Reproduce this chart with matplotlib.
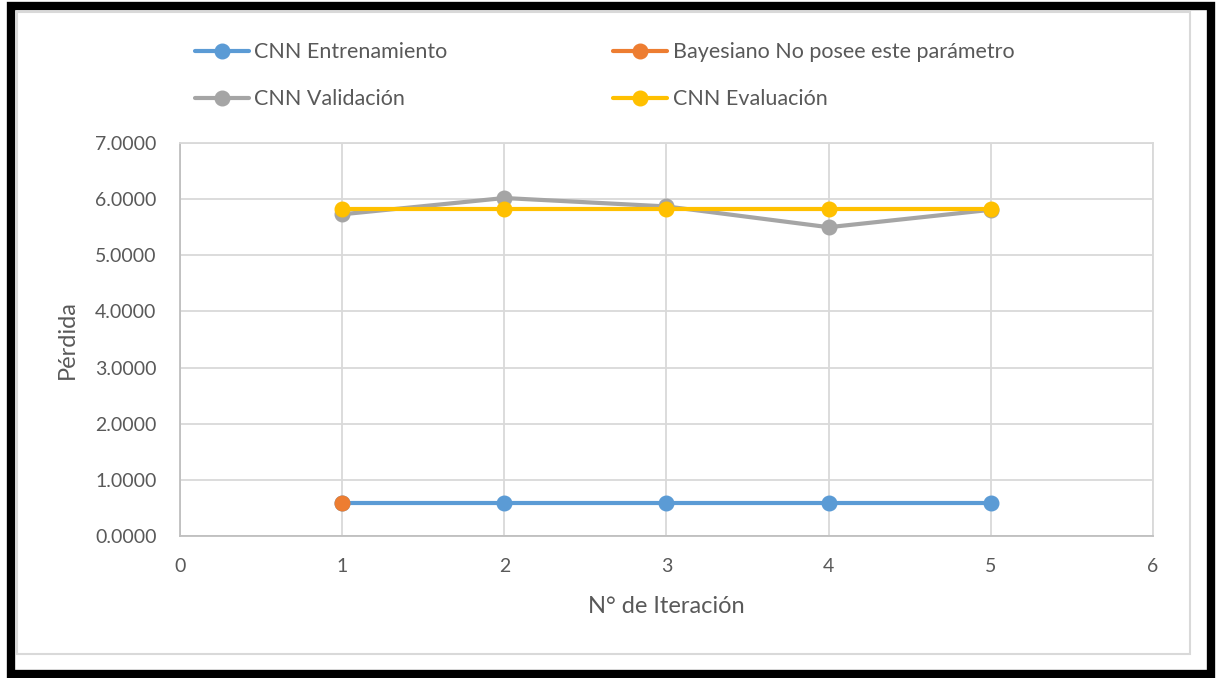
import matplotlib.pyplot as plt
from matplotlib.patches import Rectangle

plt.rcParams['font.family'] = ['Lato', 'DejaVu Sans']

# Resultados por iteración
iteraciones = [1, 2, 3, 4, 5]
cnn_entrenamiento = [0.58, 0.58, 0.58, 0.58, 0.58]
bayesiano_iter = [1]
bayesiano = [0.58]
cnn_validacion = [5.73, 6.02, 5.87, 5.50, 5.81]
cnn_evaluacion = [5.82, 5.82, 5.82, 5.82, 5.82]

TEXTO = '#595959'
REJILLA = '#D9D9D9'

fig = plt.figure(figsize=(12.17, 6.78), dpi=100)

# marco negro exterior y borde del área del gráfico
fig.patches.append(Rectangle((0.009, 0.006), 0.986, 0.985, transform=fig.transFigure,
                             fill=False, edgecolor='black', linewidth=6, zorder=0))
fig.patches.append(Rectangle((0.014, 0.035), 0.964, 0.947, transform=fig.transFigure,
                             fill=False, edgecolor='#D9D9D9', linewidth=1.5, zorder=0))

ax = fig.add_axes([0.1479, 0.2094, 0.7995, 0.5797])

estilo = dict(marker='o', markersize=10.5, linewidth=3, solid_capstyle='round')
l_ent, = ax.plot(iteraciones, cnn_entrenamiento, color='#5B9BD5', label='CNN Entrenamiento', **estilo)
l_bay, = ax.plot(bayesiano_iter, bayesiano, color='#ED7D31', label='Bayesiano No posee este parámetro', **estilo)
l_val, = ax.plot(iteraciones, cnn_validacion, color='#A5A5A5', label='CNN Validación', **estilo)
l_eva, = ax.plot(iteraciones, cnn_evaluacion, color='#FFC000', label='CNN Evaluación', **estilo)

ax.set_xlim(0, 6)
ax.set_ylim(0, 7)
ax.set_xticks(range(0, 7))
ax.set_yticks([0, 1, 2, 3, 4, 5, 6, 7])
ax.set_yticklabels([f'{v:.4f}' for v in range(0, 8)])
ax.grid(True, color=REJILLA, linewidth=1.3)
ax.set_axisbelow(True)
for lado, sp in ax.spines.items():
    sp.set_color('#BFBFBF' if lado in ('left', 'bottom') else REJILLA)
    sp.set_linewidth(1.3)
ax.tick_params(length=0, labelsize=14, colors=TEXTO)
ax.tick_params(axis='y', pad=17)
ax.tick_params(axis='x', pad=16)
ax.set_xlabel('N° de Iteración', fontsize=17, color=TEXTO, labelpad=15)
ax.set_ylabel('Pérdida', fontsize=17, color=TEXTO, labelpad=12)

# la leyenda se llena por columnas: se ordena para que quede por filas
fig.legend([l_ent, l_val, l_bay, l_eva],
           [l_ent.get_label(), l_val.get_label(), l_bay.get_label(), l_eva.get_label()],
           loc='upper left', bbox_to_anchor=(0.1444, 0.966), ncol=2, frameon=False,
           fontsize=15.5, handlelength=2.5, handletextpad=0.25, columnspacing=7.7,
           labelspacing=1.24, labelcolor=TEXTO)

fig.savefig('out.png', dpi=100)
